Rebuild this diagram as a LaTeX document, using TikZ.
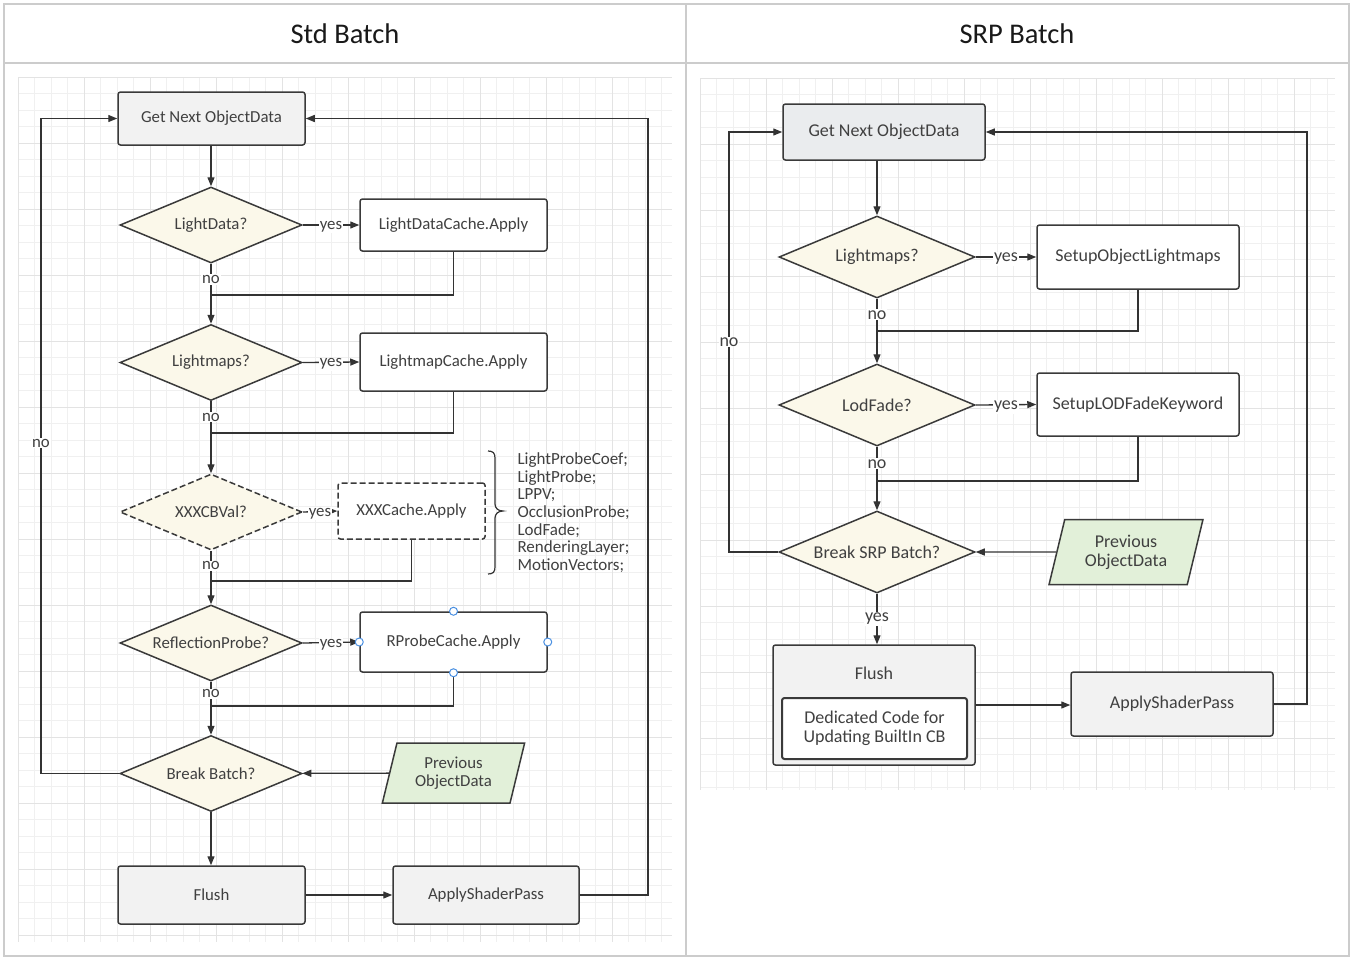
\documentclass[tikz,border=0pt]{standalone}
\usepackage{fontspec}
\setmainfont{Carlito}
\usetikzlibrary{shapes.geometric,arrows.meta}
\definecolor{linec}{HTML}{333333}
\definecolor{boxc}{HTML}{3A3A3A}
\definecolor{txt}{HTML}{404040}
\definecolor{gfill}{HTML}{F2F2F2}
\definecolor{bfill}{HTML}{EAECEE}
\definecolor{dfill}{HTML}{FBF8EA}
\definecolor{pfill}{HTML}{E2F0D9}
\definecolor{gminor}{HTML}{F0F0F0}
\definecolor{gmajor}{HTML}{E3E3E3}
\definecolor{frame}{HTML}{CCCCCC}
\definecolor{handlec}{HTML}{4A90E2}
\tikzset{
  ln/.style={draw=linec, line width=1.3pt},
  arr/.style={ln, -{Triangle[length=9pt,width=7pt]}},
  base/.style={draw=boxc, line width=1.5pt, text=txt, inner sep=0pt, align=center},
  box/.style={base, rectangle, rounded corners=2.5pt},
  gbox/.style={box, fill=gfill},
  wbox/.style={box, fill=white},
  dia/.style={base, diamond, aspect=2.4, fill=dfill},
  para/.style={base, trapezium, trapezium left angle=73, trapezium right angle=107, trapezium stretches=true, fill=pfill},
  lab/.style={fill=white, inner sep=1pt, text=txt},
  ylab/.style={lab, yshift=-2pt},
  dsh/.style={dash pattern=on 6pt off 3pt},
  handle/.style={draw=handlec, fill=white, line width=1pt},
  fl/.style={font=\fontsize{16.8}{18}\selectfont},
  fr/.style={font=\fontsize{18}{19}\selectfont},
}
\begin{document}
\begin{tikzpicture}[x=1pt,y=-1pt]
\useasboundingbox (0,0) rectangle (1352,959);
\fill[white] (0,0) rectangle (1352,959);
% grids
\begin{scope}
\clip (18,77) rectangle (672,942);
\foreach \i in {0,...,40} {\draw[gminor, line width=0.8pt] ({18+16.5*\i},77) -- ({18+16.5*\i},942);}
\foreach \i in {0,...,53} {\draw[gminor, line width=0.8pt] (18,{77+16.5*\i}) -- (672,{77+16.5*\i});}
\foreach \i in {0,...,10} {\draw[gmajor, line width=0.8pt] ({18+66*\i},77) -- ({18+66*\i},942);}
\foreach \i in {0,...,13} {\draw[gmajor, line width=0.8pt] (18,{77+66*\i}) -- (672,{77+66*\i});}
\end{scope}
\begin{scope}
\clip (700,78) rectangle (1335,790);
\foreach \i in {0,...,39} {\draw[gminor, line width=0.8pt] ({700+16.5*\i},78) -- ({700+16.5*\i},790);}
\foreach \i in {0,...,44} {\draw[gminor, line width=0.8pt] (700,{78+16.5*\i}) -- (1335,{78+16.5*\i});}
\foreach \i in {0,...,10} {\draw[gmajor, line width=0.8pt] ({700+66*\i},78) -- ({700+66*\i},790);}
\foreach \i in {0,...,11} {\draw[gmajor, line width=0.8pt] (700,{78+66*\i}) -- (1335,{78+66*\i});}
\end{scope}
% table frame
\draw[frame, line width=1.5pt] (4,4) rectangle (1349,956);
\draw[frame, line width=1.5pt] (4,63) -- (1349,63);
\draw[frame, line width=1.5pt] (686,4) -- (686,956);
\node[font=\fontsize{28.5}{32}\selectfont, text=black!90] (h1) at (345,34) {Std Batch};
\node[font=\fontsize{28.5}{32}\selectfont, text=black!90] (h2) at (1017,34) {SRP Batch};

% ===== Left: Std Batch =====
\begin{scope}[every node/.append style={fl}]
\node[gbox, minimum width=187, minimum height=53] (L0) at (211.5,118.5) {Get Next ObjectData};
\node[dia, minimum width=182, minimum height=76] (L1) at (211,225) {LightData?};
\node[wbox, minimum width=187, minimum height=52] (L1y) at (453.5,225) {LightDataCache.Apply};
\node[dia, minimum width=182, minimum height=76] (L2) at (211,362.5) {Lightmaps?};
\node[wbox, minimum width=187, minimum height=58] (L2y) at (453.5,362) {LightmapCache.Apply};
\node[dia, dsh, minimum width=182, minimum height=76] (L3) at (211,512) {XXXCBVal?};
\node[wbox, dsh, minimum width=147, minimum height=56] (L3y) at (411.5,511) {XXXCache.Apply};
\node[dia, minimum width=182, minimum height=76] (L4) at (211,643) {ReflectionProbe?};
\node[wbox, minimum width=187, minimum height=60] (L4y) at (453.5,642) {RProbeCache.Apply};
\node[dia, minimum width=182, minimum height=76] (L5) at (211,773.5) {Break Batch?};
\node[para, minimum width=143, minimum height=60] (L5p) at (453.5,773) {Previous\\ObjectData};
\node[gbox, minimum width=187, minimum height=58] (L6) at (211.5,895) {Flush};
\node[gbox, minimum width=186, minimum height=58] (L7) at (486,895) {ApplyShaderPass};
\node[text=txt, anchor=north west, align=left, font=\fontsize{17}{17.7}\selectfont] (probes) at (514,449)
  {LightProbeCoef;\\LightProbe;\\LPPV;\\OcclusionProbe;\\LodFade;\\RenderingLayer;\\MotionVectors;};

\coordinate (m1) at (211,295);
\coordinate (m2) at (211,433);
\coordinate (m3) at (211,581);
\coordinate (m4) at (211,706);
\coordinate (cL) at (41,443);
\coordinate (cR) at (648,500);

\draw[arr] (L0.south -| L1.north) -- (L1.north);
\draw[arr] (L1.east) -- node[ylab]{yes} (L1y.west);
\draw[ln] (L1.south) -- node[lab]{no} (m1);
\draw[ln] (L1y.south) |- (m1);
\draw[arr] (m1) -- (L2.north);
\draw[arr] (L2.east) -- node[ylab]{yes} (L2y.west);
\draw[ln] (L2.south) -- node[lab]{no} (m2);
\draw[ln] (L2y.south) |- (m2);
\draw[arr] (m2) -- (L3.north);
\draw[arr, dsh] (L3.east) -- node[ylab]{yes} (L3y.west);
\draw[ln] (L3.south) -- node[lab]{no} (m3);
\draw[ln] (L3y.south) |- (m3);
\draw[arr] (m3) -- (L4.north);
\draw[arr] (L4.east) -- node[ylab]{yes} (L4y.west);
\draw[ln] (L4.south) -- node[lab]{no} (m4);
\draw[ln] (L4y.south) |- (m4);
\draw[arr] (m4) -- (L5.north);
\draw[arr] (L5p) -- (L5);
\draw[arr] (L5.south) -- (L5.south |- L6.north);
\draw[arr] (L6) -- (L7);
\draw[arr] (L5.west) -| (cL) |- (L0.west);
\node[lab] (noL) at (cL) {no};
\draw[arr] (L7.east) -| (cR) |- (L0.east);
\foreach \a in {north,south,east,west} {\draw[handle] (L4y.\a) circle (4pt);}
\draw[linec, line width=1.2pt] (488,451) .. controls (493,451) and (495,453) .. (495,458) -- (495,504)
  .. controls (495,508) and (498,511) .. (503,511) .. controls (498,511) and (495,514) .. (495,518)
  -- (495,567) .. controls (495,572) and (493,574) .. (488,574);
\end{scope}

% ===== Right: SRP Batch =====
\begin{scope}[every node/.append style={fr}]
\node[box, fill=bfill, minimum width=202, minimum height=56] (R0) at (884,132) {Get Next ObjectData};
\node[dia, minimum width=196, minimum height=82] (R1) at (877,257) {Lightmaps?};
\node[wbox, minimum width=202, minimum height=64] (R1y) at (1138,257) {SetupObjectLightmaps};
\node[dia, minimum width=196, minimum height=82] (R2) at (877,405) {LodFade?};
\node[wbox, minimum width=202, minimum height=63] (R2y) at (1138,404.5) {SetupLODFadeKeyword};
\node[dia, minimum width=196, minimum height=82] (R3) at (877,552) {Break SRP Batch?};
\node[para, minimum width=154, minimum height=65] (R3p) at (1126,552) {Previous\\ObjectData};
\node[gbox, minimum width=202, minimum height=120] (R4) at (874,705) {};
\node[text=txt] (R4t) at (874,673) {Flush};
\node[wbox, line width=2pt, minimum width=185, minimum height=61] (R4i) at (874.5,728.5) {Dedicated Code for\\Updating BuiltIn CB};
\node[gbox, minimum width=202, minimum height=64] (R5) at (1172,704) {ApplyShaderPass};

\coordinate (m5) at (877,331);
\coordinate (m6) at (877,481);
\coordinate (cRL) at (729,342);
\coordinate (cRR) at (1307,400);

\draw[arr] (R0.south -| R1.north) -- (R1.north);
\draw[arr] (R1.east) -- node[ylab]{yes} (R1y.west);
\draw[ln] (R1.south) -- node[lab]{no} (m5);
\draw[ln] (R1y.south) |- (m5);
\draw[arr] (m5) -- (R2.north);
\draw[arr] (R2.east) -- node[ylab]{yes} (R2y.west);
\draw[ln] (R2.south) -- node[lab]{no} (m6);
\draw[ln] (R2y.south) |- (m6);
\draw[arr] (m6) -- (R3.north);
\draw[arr] (R3p) -- (R3);
\draw[arr] (R3.south) -- node[lab]{yes} (R3.south |- R4.north);
\draw[arr] (R4.east) -- (R4.east -| R5.west);
\draw[arr] (R3.west) -| (cRL) |- (R0.west);
\node[lab] (noR) at (cRL) {no};
\draw[arr] (R5.east) -| (cRR) |- (R0.east);
\end{scope}
\end{tikzpicture}
\end{document}
